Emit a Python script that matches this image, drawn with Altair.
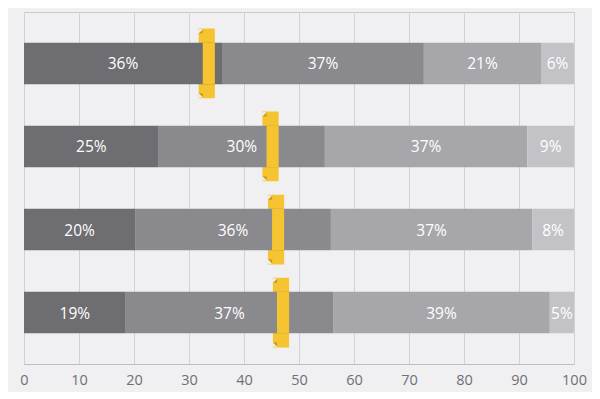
import altair as alt
import pandas as pd

rows = ["r1", "r2", "r3", "r4"]
seg1 = [36.0, 24.5, 20.2, 18.5]
seg2 = [36.7, 30.2, 35.6, 37.7]
seg3 = [21.3, 36.8, 36.6, 39.4]
seg4 = [6.0, 8.5, 7.6, 4.4]
lab1 = ["36%", "25%", "20%", "19%"]
lab2 = ["37%", "30%", "36%", "37%"]
lab3 = ["21%", "37%", "37%", "39%"]
lab4 = ["6%", "9%", "8%", "5%"]
markers = [33.6, 45.2, 46.2, 47.1]
tick_values = [0, 10, 20, 30, 40, 50, 60, 70, 80, 90, 100]
seg_names = ["s1", "s2", "s3", "s4"]
colors = ["#6e6d72", "#8a898e", "#a7a6ab", "#c3c2c7"]

recs = []
for i, r in enumerate(rows):
    start = 0.0
    for s, (vals, labs) in enumerate(zip([seg1, seg2, seg3, seg4], [lab1, lab2, lab3, lab4])):
        end = start + vals[i]
        recs.append({"row": r, "seg": seg_names[s], "start": start, "end": end,
                     "mid": (start + end) / 2, "label": labs[i]})
        start = end
df = pd.DataFrame(recs)

BODY = 1.1   # half width of marker body, in axis units
FLANGE = 0.75
mdf = pd.DataFrame({"row": rows, "v": markers})
mdf["l"] = mdf["v"] - BODY
mdf["lw"] = mdf["v"] - BODY - FLANGE
mdf["r"] = mdf["v"] + BODY
mdf["notch"] = mdf["v"] - BODY - FLANGE / 2

yenc = alt.Y("row:N", sort=rows, axis=None,
             scale=alt.Scale(paddingInner=0.5, paddingOuter=0.37))
xscale = alt.Scale(domain=[0, 100], nice=False, zero=True)

base = alt.Chart(df)

bars = base.mark_bar(cornerRadius=0).encode(
    x=alt.X("start:Q", scale=xscale,
            axis=alt.Axis(values=tick_values, title=None, grid=True, ticks=False,
                          labelFontSize=14.5, labelColor="#6f6f74", labelPadding=9,
                          labelFont="Open Sans", domainColor="#bdbdc2",
                          gridColor="#d2d2d6", labelFlush=False)),
    x2="end:Q",
    y=yenc,
    color=alt.Color("seg:N", scale=alt.Scale(domain=seg_names, range=colors), legend=None),
)

texts = base.mark_text(color="white", fontSize=15.5, font="Open Sans", baseline="middle", dy=1).encode(
    x=alt.X("mid:Q", scale=xscale),
    y=yenc,
    text="label:N",
)

YELLOW = "#f7c431"
DARK = "#c99a25"
BG = "#f0f0f3"

mbase = alt.Chart(mdf)
wide = mbase.mark_bar(color=YELLOW, height=alt.RelativeBandSize(1.68)).encode(
    x=alt.X("lw:Q", scale=xscale), x2="r:Q", y=yenc)
body = mbase.mark_bar(color=YELLOW, height=alt.RelativeBandSize(1.0)).encode(
    x=alt.X("l:Q", scale=xscale), x2="r:Q", y=yenc)

def notch(shape, color, dy):
    return mbase.mark_point(shape=shape, filled=True, size=18, opacity=1, strokeWidth=0,
                            color=color, yOffset=dy).encode(
        x=alt.X("notch:Q", scale=xscale), y=yenc)

notch_top_dark = notch("M-1,1 L1,-1 L1,1 Z", DARK, -32)
notch_top_cut = notch("M-1,-1 L1,-1 L-1,1 Z", BG, -32)
notch_bot_dark = notch("M-1,-1 L1,1 L1,-1 Z", DARK, 32)
notch_bot_cut = notch("M-1,1 L1,1 L-1,-1 Z", BG, 32)

chart = alt.layer(wide, bars, body, notch_top_dark, notch_top_cut,
                  notch_bot_dark, notch_bot_cut, texts).properties(
    width=550, height=352,
    autosize=alt.AutoSizeParams(type="none"),
    padding={"left": 16, "top": 4, "right": 18, "bottom": 28},
    background=BG,
).configure_view(stroke="#cacace", fill=BG, strokeWidth=1)

chart.save("out.html", embed_options={"renderer": "svg", "actions": False})
